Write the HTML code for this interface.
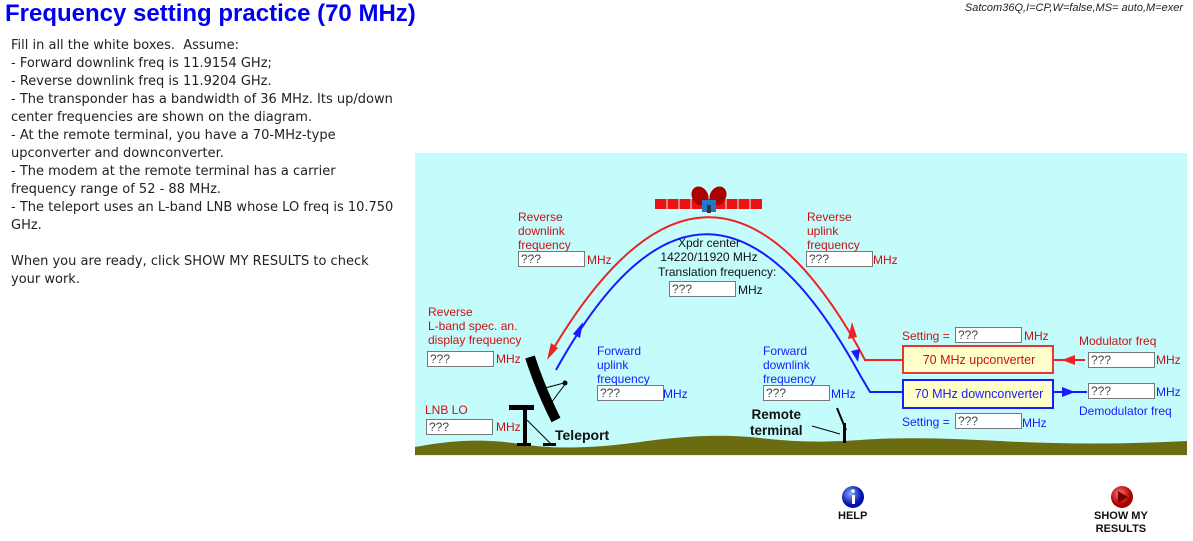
<!DOCTYPE html>
<html><head><meta charset="utf-8"><style>
body{margin:0;width:1193px;height:541px;background:#fff;position:relative;overflow:hidden;font-family:"Liberation Sans",sans-serif}
.a{position:absolute;white-space:nowrap}
h1{position:absolute;left:5px;top:0;margin:0;font:bold 24px "Liberation Sans",sans-serif;color:#0000ee}
.txt{position:absolute;left:11px;top:37px;font:13px/18px "DejaVu Sans",sans-serif;color:#222;width:390px}
.box{position:absolute;width:63px;height:14px;border:1px solid #777;background:#fff;font:12px/14px "Liberation Sans",sans-serif;color:#444;padding-left:2px}
.r{color:#cc1111;font-size:12px;line-height:14px}
.b{color:#1a1aff;font-size:12px;line-height:14px}
.k{color:#111;font-size:12px;line-height:14px}
</style></head><body>
<h1>Frequency setting practice (70 MHz)</h1>
<div class="a" style="right:10px;top:2px;font:italic 11px 'Liberation Sans',sans-serif;color:#222">Satcom36Q,I=CP,W=false,MS= auto,M=exer</div>
<div class="txt">Fill in all the white boxes.&nbsp; Assume:<br>- Forward downlink freq is 11.9154 GHz;<br>- Reverse downlink freq is 11.9204 GHz.<br>- The transponder has a bandwidth of 36 MHz. Its up/down center frequencies are shown on the diagram.<br>- At the remote terminal, you have a 70-MHz-type upconverter and downconverter.<br>- The modem at the remote terminal has a carrier frequency range of 52 - 88 MHz.<br>- The teleport uses an L-band LNB whose LO freq is 10.750 GHz.<br><br>When you are ready, click SHOW MY RESULTS to check your work.</div>

<div class="a" style="left:415px;top:153px;width:772px;height:303px;background:#c4fcfc"></div>
<svg class="a" style="left:0;top:0" width="1193" height="541">
<path d="M415 447 Q470 436 520 444 T640 442 T760 438 T860 440 T1000 441 T1187 441 L1187 455 L415 455Z" fill="#6b6b12"/>
<rect x="655" y="199" width="107" height="10" fill="#ee1111"/>
<g stroke="#c4fcfc" stroke-width="1"><line x1="667" y1="199" x2="667" y2="209"/><line x1="679" y1="199" x2="679" y2="209"/><line x1="691" y1="199" x2="691" y2="209"/><line x1="726" y1="199" x2="726" y2="209"/><line x1="738" y1="199" x2="738" y2="209"/><line x1="750" y1="199" x2="750" y2="209"/></g>
<ellipse cx="700" cy="196" rx="8" ry="10" fill="#aa0000" transform="rotate(-30 700 196)"/>
<ellipse cx="718" cy="196" rx="8" ry="10" fill="#aa0000" transform="rotate(30 718 196)"/>
<rect x="702" y="200" width="14" height="12" fill="#2277cc"/><rect x="707" y="205" width="4" height="8" fill="#333"/>
<path d="M549 356 Q708 84 857 345 L865 360 L903 360" fill="none" stroke="#ee2222" stroke-width="2"/>
<path d="M556 370 Q708 96 860 375 L870 392 L903 392" fill="none" stroke="#1a1aff" stroke-width="2"/>
<path d="M1085 360 L1053 360" stroke="#ee2222" stroke-width="2"/>
<path d="M1053 392 L1087 392" stroke="#1a1aff" stroke-width="2"/>
<polygon points="547,360 551,343 558,348" fill="#ee2222"/>
<polygon points="583,322 580,338 573,334" fill="#1a1aff"/>
<polygon points="852,322 848,339 857,337" fill="#ee2222"/>
<polygon points="858,362 851,351 860,349" fill="#1a1aff"/>
<polygon points="1062,360 1075,355 1075,365" fill="#ee2222"/>
<polygon points="1075,392 1062,387 1062,397" fill="#1a1aff"/>
<path d="M530 357 Q540 388 556 420" stroke="#000" stroke-width="10" fill="none"/>
<line x1="545" y1="388" x2="564" y2="383" stroke="#000"/><line x1="548" y1="407" x2="566" y2="383" stroke="#000"/>
<circle cx="565" cy="383" r="2.5" fill="#000"/>
<rect x="509" y="405" width="25" height="5" fill="#000"/><rect x="523" y="408" width="4" height="38" fill="#000"/>
<rect x="517" y="443" width="14" height="3" fill="#000"/><line x1="527" y1="420" x2="551" y2="444" stroke="#000"/><rect x="543" y="443" width="13" height="3" fill="#000"/>
<rect x="843" y="423" width="3" height="20" fill="#000"/><line x1="837" y1="408" x2="846" y2="430" stroke="#000" stroke-width="2"/>
<line x1="812" y1="426" x2="840" y2="434" stroke="#000"/>
<rect x="903" y="346" width="150" height="27" fill="#ffffcc" stroke="#ee3333" stroke-width="2"/>
<rect x="903" y="380" width="150" height="28" fill="#ffffcc" stroke="#1a1aff" stroke-width="2"/>
<defs><radialGradient id="gb" cx="40%" cy="35%"><stop offset="0" stop-color="#88aaff"/><stop offset="1" stop-color="#0011aa"/></radialGradient>
<radialGradient id="gr" cx="40%" cy="35%"><stop offset="0" stop-color="#ff7777"/><stop offset="1" stop-color="#aa0000"/></radialGradient></defs>
<circle cx="853" cy="497" r="11" fill="url(#gb)"/><rect x="852" y="495" width="3" height="9" fill="#fff"/><circle cx="853" cy="491" r="1.8" fill="#fff"/>
<circle cx="1122" cy="497" r="11" fill="url(#gr)"/><polygon points="1118,491 1128,497 1118,503" fill="#770000"/>
</svg>
<div class="a" style="left:903px;top:346px;width:152px;line-height:29px;text-align:center;font-size:12.5px;color:#cc1111">70 MHz upconverter</div>
<div class="a" style="left:903px;top:380px;width:152px;line-height:29px;text-align:center;font-size:12.5px;color:#1a1aff">70 MHz downconverter</div>

<div class="a r" style="left:518px;top:210px">Reverse<br>downlink<br>frequency</div>
<div class="box" style="left:518px;top:251px">???</div><div class="a r" style="left:587px;top:253px">MHz</div>
<div class="a r" style="left:807px;top:210px">Reverse<br>uplink<br>frequency</div>
<div class="box" style="left:806px;top:251px">???</div><div class="a r" style="left:873px;top:253px">MHz</div>
<div class="a k" style="left:650px;top:236px;width:118px;text-align:center">Xpdr center<br>14220/11920 MHz</div>
<div class="a k" style="left:658px;top:265px">Translation frequency:</div>
<div class="box" style="left:669px;top:281px">???</div><div class="a k" style="left:738px;top:283px">MHz</div>
<div class="a r" style="left:428px;top:305px">Reverse<br>L-band spec. an.<br>display frequency</div>
<div class="box" style="left:427px;top:351px">???</div><div class="a r" style="left:496px;top:352px">MHz</div>
<div class="a r" style="left:425px;top:403px">LNB LO</div>
<div class="box" style="left:426px;top:419px">???</div><div class="a r" style="left:496px;top:420px">MHz</div>
<div class="a b" style="left:597px;top:344px">Forward<br>uplink<br>frequency</div>
<div class="box" style="left:597px;top:385px">???</div><div class="a b" style="left:663px;top:387px">MHz</div>
<div class="a b" style="left:763px;top:344px">Forward<br>downlink<br>frequency</div>
<div class="box" style="left:763px;top:385px">???</div><div class="a b" style="left:831px;top:387px">MHz</div>
<div class="a" style="left:750px;top:407px;font:bold 13.5px/16px 'Liberation Sans',sans-serif;text-align:center;color:#111">Remote<br>terminal</div>
<div class="a" style="left:555px;top:427px;font:bold 14px 'Liberation Sans',sans-serif;color:#111">Teleport</div>
<div class="a r" style="left:902px;top:329px">Setting =</div>
<div class="box" style="left:955px;top:327px">???</div><div class="a r" style="left:1024px;top:329px">MHz</div>
<div class="a b" style="left:902px;top:415px">Setting =</div>
<div class="box" style="left:955px;top:413px">???</div><div class="a b" style="left:1022px;top:416px">MHz</div>
<div class="a r" style="left:1079px;top:334px">Modulator freq</div>
<div class="box" style="left:1088px;top:352px">???</div><div class="a r" style="left:1156px;top:353px">MHz</div>
<div class="box" style="left:1088px;top:383px">???</div><div class="a b" style="left:1156px;top:385px">MHz</div>
<div class="a b" style="left:1079px;top:404px">Demodulator freq</div>
<div class="a" style="left:838px;top:510px;font:bold 11px 'Liberation Sans',sans-serif;color:#111">HELP</div>
<div class="a" style="left:1094px;top:510px;font:bold 11px/13px 'Liberation Sans',sans-serif;text-align:center;color:#111">SHOW MY<br>RESULTS</div>
</body></html>
